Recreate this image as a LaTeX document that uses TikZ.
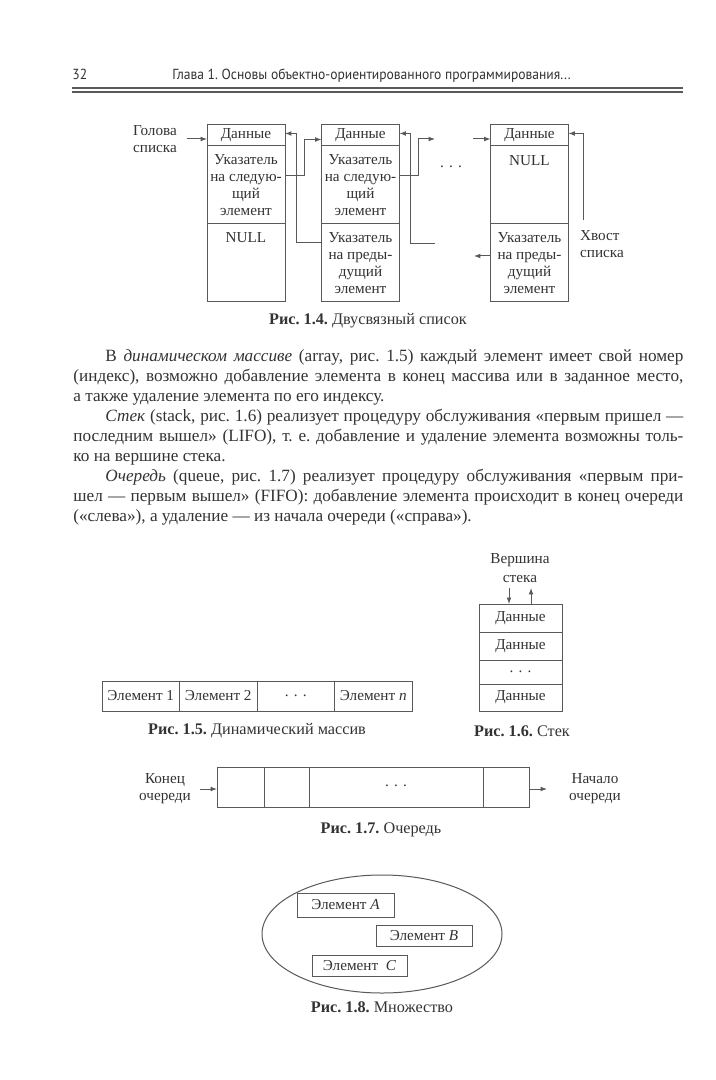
\documentclass[tikz,border=0pt]{standalone}
\usepackage{fontspec}
\setmainfont{Liberation Serif}
\newfontfamily\headfont[FakeStretch=0.93]{PT Sans}
\usetikzlibrary{arrows.meta, positioning, shapes.geometric}
\definecolor{ink}{gray}{0.2}
\definecolor{wire}{gray}{0.35}
\newcommand\bodysz{\fontsize{8.6}{10}\selectfont}
\newcommand\cellsz{\fontsize{7.6}{8.5}\selectfont}
\newcommand\capsz{\fontsize{8.1}{9}\selectfont}
\newcommand\jline[2]{\makebox[#1][s]{#2}}
\newcommand\spdots{.\hspace{2.6pt}.\hspace{2.6pt}.}
\frenchspacing

\begin{document}
\begin{tikzpicture}[x=0.5pt, y=-0.5pt]
		\tikzset{cell/.style = {shape=rectangle, draw=wire, line width=0.5pt, minimum width=39pt, inner sep=0pt, outer sep=0pt, align=center, text=ink, font=\cellsz}}
		\tikzset{edge/.style = {->, > = {Latex[length=3.2pt, width=2.4pt]}, draw=wire, line width=0.5pt}}
		\tikzset{txt/.style = {anchor=base west, inner sep=0pt, text=ink, font=\bodysz}}
		\tikzset{lbl/.style = {inner sep=0pt, align=center, text=ink, font=\cellsz}}
		\tikzset{figcap/.style = {inner sep=0pt, text=ink, font=\capsz}}

		\useasboundingbox (0,0) rectangle (716,1080);
		\fill[white] (0,0) rectangle (716,1080);

		% running head
		\node[anchor=base west, inner sep=0pt, text=ink, font=\headfont\fontsize{7.3}{9}\selectfont] (pg) at (72,80) {32};
		\node[anchor=base west, inner sep=0pt, text=ink, font=\headfont\fontsize{7.3}{9}\selectfont] (hdr) at (172,80) {Глава 1. Основы объектно-ориентированного программирования...};
		\draw[wire, line width=0.6pt] (72,88) -- (683,88);
		\draw[wire, line width=0.6pt] (72,92) -- (683,92);

		% fig 1.4
		\node[cell, minimum height=10.5pt] (d1) at (246,135.5) {Данные};
		\node[cell, minimum height=39pt, below=0pt of d1] (n1) {Указатель\\на следую-\\щий\\элемент};
		\node[cell, minimum height=39pt, below=0pt of n1] (p1) {};
		\node[lbl, below=4pt of p1.north] (z1) {NULL};

		\node[cell, minimum height=10.5pt] (d2) at (360.5,135.5) {Данные};
		\node[cell, minimum height=39pt, below=0pt of d2] (n2) {Указатель\\на следую-\\щий\\элемент};
		\node[cell, minimum height=39pt, below=0pt of n2] (p2) {Указатель\\на преды-\\дущий\\элемент};

		\node[cell, minimum height=10.5pt] (d3) at (529.5,135.5) {Данные};
		\node[cell, minimum height=39pt, below=0pt of d3] (n3) {};
		\node[lbl, below=4.5pt of n3.north] (z3) {NULL};
		\node[cell, minimum height=39pt, below=0pt of n3] (p3) {Указатель\\на преды-\\дущий\\элемент};

		\node[lbl, align=left] (head) at (155,139) {Голова\\списка};
		\node[lbl, align=left] (tail) at (602,244) {Хвост\\списка};
		\node[lbl] (gap) at (451,167) {\spdots};

		\coordinate (hd) at (187,139);
		\coordinate (gi) at (435,139);
		\coordinate (go) at (435,244);
		\coordinate (gi3) at (473,139);
		\coordinate (go3) at (474,256);
		\coordinate (tl) at (583,220);

		\draw[edge] (hd) -- (hd -| d1.west);
		\draw[edge] ([yshift=4.5pt]n1.east) -- ++(19,0) |- ([yshift=-2pt]d2.west);
		\draw[edge] ([yshift=10pt]p2.west) -- ++(-25,0) |- ([yshift=1pt]d1.east);
		\draw[edge] ([yshift=4.5pt]n2.east) -- ++(19,0) |- (gi);
		\draw[edge] (go) -- ++(-25,0) |- ([yshift=1pt]d2.east);
		\draw[edge] (gi3) -- (gi3 -| d3.west);
		\draw[edge] (go3 -| p3.west) -- (go3);
		\draw[edge] (tl) |- ([yshift=1pt]d3.east);

		\node[figcap] (c14) at (368,321) {\textbf{Рис. 1.4.} Двусвязный список};

		% body text
		\node[txt] (t1) at (105,361) {\jline{289pt}{В \textit{динамическом массиве} (array, рис. 1.5) каждый элемент имеет свой номер}};
		\node[txt] (t2) at (73,381) {\jline{305pt}{(индекс), возможно добавление элемента в конец массива или в заданное место,}};
		\node[txt] (t3) at (73,401) {а также удаление элемента по его индексу.};
		\node[txt] (t4) at (105,421) {\jline{289pt}{\textit{Стек} (stack, рис. 1.6) реализует процедуру обслуживания «первым пришел —}};
		\node[txt] (t5) at (73,441) {\jline{305pt}{последним вышел» (LIFO), т. е. добавление и удаление элемента возможны толь-}};
		\node[txt] (t6) at (73,461) {ко на вершине стека.};
		\node[txt] (t7) at (105,481) {\jline{289pt}{\textit{Очередь} (queue, рис. 1.7) реализует процедуру обслуживания «первым при-}};
		\node[txt] (t8) at (73,501) {\jline{305pt}{шел — первым вышел» (FIFO): добавление элемента происходит в конец очереди}};
		\node[txt] (t9) at (73,521) {(«слева»), а удаление — из начала очереди («справа»).};

		% fig 1.5
		\node[cell, minimum width=38.75pt, minimum height=15pt] (a1) at (140.75,696) {Элемент 1};
		\node[cell, minimum width=38.75pt, minimum height=15pt, right=0pt of a1] (a2) {Элемент 2};
		\node[cell, minimum width=38.75pt, minimum height=15pt, right=0pt of a2] (a3) {\spdots};
		\node[cell, minimum width=38.75pt, minimum height=15pt, right=0pt of a3] (a4) {Элемент \textit{n}};
		\node[figcap] (c15) at (257,731) {\textbf{Рис. 1.5.} Динамический массив};

		% fig 1.6
		\node[cell, minimum width=41.5pt, minimum height=14pt] (s1) at (520.5,618) {Данные};
		\node[cell, minimum width=41.5pt, minimum height=14pt, below=0pt of s1] (s2) {Данные};
		\node[cell, minimum width=41.5pt, minimum height=12pt, below=0pt of s2] (s3) {\spdots};
		\node[cell, minimum width=41.5pt, minimum height=13.5pt, below=0pt of s3] (s4) {Данные};
		\node[lbl] (top) at (520,568.5) {Вершина\\[1pt]стека};
		\coordinate (vin) at (509,588);
		\coordinate (vout) at (531,588);
		\draw[edge] (vin) -- (vin |- s1.north);
		\draw[edge] (vout |- s1.north) -- (vout);
		\node[figcap] (c16) at (522,731) {\textbf{Рис. 1.6.} Стек};

		% fig 1.7
		\node[cell, minimum width=23.5pt, minimum height=20pt] (q1) at (240.5,787) {};
		\node[cell, minimum width=22.5pt, minimum height=20pt, right=0pt of q1] (q2) {};
		\node[cell, minimum width=87pt, minimum height=20pt, right=0pt of q2] (q3) {\raisebox{1pt}{\spdots}};
		\node[cell, minimum width=23pt, minimum height=20pt, right=0pt of q3] (q4) {};
		\node[lbl] (qend) at (165,789) {Конец\\очереди};
		\node[lbl] (qbeg) at (595,789) {Начало\\очереди};
		\coordinate (qin) at (200,789);
		\coordinate (qout) at (547,789);
		\draw[edge] (qin) -- (qin -| q1.west);
		\draw[edge] (qout -| q4.east) -- (qout);
		\node[figcap] (c17) at (381,830) {\textbf{Рис. 1.7.} Очередь};

		% fig 1.8
		\node[shape=ellipse, draw=wire, line width=0.5pt, minimum width=120pt, minimum height=59pt, inner sep=0pt] (set) at (382,934) {};
		\node[cell, minimum width=48.5pt, minimum height=12pt] (ea) at (345.5,905) {Элемент \textit{A}};
		\node[cell, minimum width=48pt, minimum height=10.5pt] (eb) at (424,935.5) {Элемент \textit{B}};
		\node[cell, minimum width=47.5pt, minimum height=10.5pt] (ec) at (359.5,965.5) {Элемент\ \ \textit{C}};
		\node[figcap] (c18) at (382,1007) {\textbf{Рис. 1.8.} Множество};

	\end{tikzpicture}
\end{document}
